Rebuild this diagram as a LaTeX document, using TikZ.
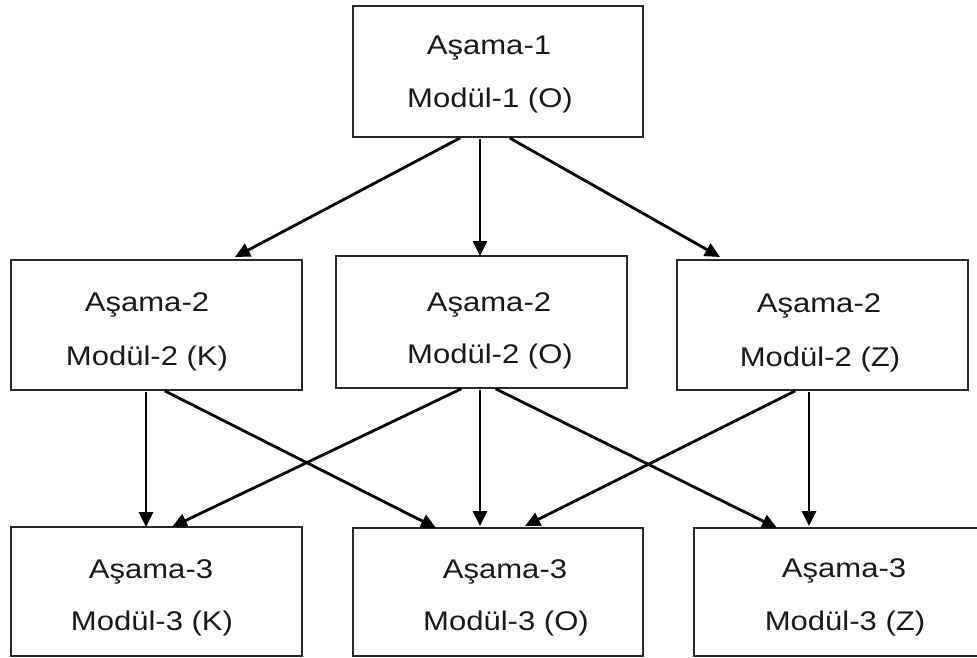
\documentclass[tikz,border=0pt]{standalone}
\usepackage{fontspec}
\setmainfont[FakeStretch=1.15]{Liberation Sans}
\usetikzlibrary{arrows.meta}
\definecolor{boxline}{RGB}{40,40,40}
\definecolor{txt}{RGB}{25,25,25}
\tikzset{
  modbox/.style={draw=boxline, line width=2pt, fill=none, inner sep=0pt, outer sep=0pt, anchor=north west},
  lbl/.style={anchor=base, inner sep=0pt, text=txt, font=\fontsize{27}{27}\selectfont},
  arr/.style={line width=2.8pt, -{Triangle[length=15pt,width=14pt]}, shorten <=2pt}
}
\begin{document}
\begin{tikzpicture}[x=1pt,y=-1pt]
\useasboundingbox (0,0) rectangle (977,658);
% boxes
\node[modbox, minimum width=290pt, minimum height=131pt] (t) at (353,6) {};
\node[modbox, minimum width=291pt, minimum height=130pt] (b21) at (11,260) {};
\node[modbox, minimum width=291pt, minimum height=132pt] (b22) at (336,256) {};
\node[modbox, minimum width=291pt, minimum height=130pt] (b23) at (677,260) {};
\node[modbox, minimum width=291pt, minimum height=129pt] (b31) at (11,527) {};
\node[modbox, minimum width=290pt, minimum height=128pt] (b32) at (353,528) {};
\node[modbox, minimum width=290pt, minimum height=128pt] (b33) at (694,528) {};
% texts
\node[lbl] (t1) at (489,55) {Aşama-1};
\node[lbl] (t2) at (490,108) {Modül-1 (O)};
\node[lbl] (a1) at (147,311) {Aşama-2};
\node[lbl] (a2) at (147,365) {Modül-2 (K)};
\node[lbl] (m1) at (489,311) {Aşama-2};
\node[lbl] (m2) at (490,363) {Modül-2 (O)};
\node[lbl] (r1) at (819,312) {Aşama-2};
\node[lbl] (r2) at (820,366) {Modül-2 (Z)};
\node[lbl] (c1) at (151,578) {Aşama-3};
\node[lbl] (c2) at (152,630) {Modül-3 (K)};
\node[lbl] (d1) at (505,578) {Aşama-3};
\node[lbl] (d2) at (506,630) {Modül-3 (O)};
\node[lbl] (e1) at (844,577) {Aşama-3};
\node[lbl] (e2) at (845,630) {Modül-3 (Z)};
% arrows from top
\draw[arr] ([xshift=109pt]t.south west) -- ([xshift=224pt,yshift=3pt]b21.north west);
\draw[arr] ([xshift=127pt]t.south west) -- ([xshift=144pt]b22.north west);
\draw[arr] ([xshift=155pt]t.south west) -- ([xshift=43pt,yshift=3pt]b23.north west);
% arrows from row 2
\draw[arr] ([xshift=135pt]b21.south west) -- ([xshift=135pt]b31.north west);
\draw[arr] ([xshift=152pt]b21.south west) -- ([xshift=83pt]b32.north west);
\draw[arr] ([xshift=127pt]b22.south west) -- ([xshift=161pt]b31.north west);
\draw[arr] ([xshift=144pt]b22.south west) -- ([xshift=127pt,yshift=2pt]b32.north west);
\draw[arr] ([xshift=158pt]b22.south west) -- ([xshift=83pt]b33.north west);
\draw[arr] ([xshift=120pt]b23.south west) -- ([xshift=172pt,yshift=2pt]b32.north west);
\draw[arr] ([xshift=132pt]b23.south west) -- ([xshift=115pt,yshift=2pt]b33.north west);
\end{tikzpicture}
\end{document}
